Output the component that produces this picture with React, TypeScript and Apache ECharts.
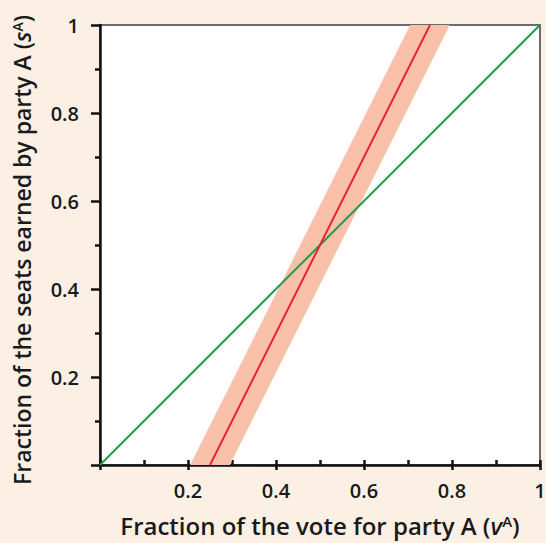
import React, { useEffect, useRef } from "react";
import * as echarts from "echarts";

const xTickValues = [0.2, 0.4, 0.6, 0.8, 1];
const yTickValues = [0.2, 0.4, 0.6, 0.8, 1];
const diagonalLine: [number, number][] = [[0, 0], [1, 1]];
const seatsLine: [number, number][] = [[0.25, 0], [0.75, 1]];
const bandLeft: [number, number][] = [[0.205, 0], [0.705, 1]];
const bandRight: [number, number][] = [[0.295, 0], [0.795, 1]];

const FONT = "Open Sans";
const fmt = (v: number) => (v === 0 ? "" : v === 1 ? "1" : v.toFixed(1));

const makeRich = (size: number) => ({
  a: { fontFamily: FONT, fontSize: size, fontWeight: 600, color: "#1a1a1a" },
  i: { fontFamily: FONT, fontSize: size, fontWeight: 600, fontStyle: "italic", color: "#1a1a1a" },
  sup: { fontFamily: FONT, fontSize: Math.round(size * 0.62), fontWeight: 600, color: "#1a1a1a", verticalAlign: "top", padding: [0, 0, 9, 0] },
});

export default function App() {
  const ref = useRef<HTMLDivElement>(null);
  useEffect(() => {
    if (!ref.current) return;
    const chart = echarts.init(ref.current, null, { renderer: "svg" });
    chart.setOption({
      animation: false,
      backgroundColor: "#fcf0e5",
      grid: {
        left: 100,
        top: 25,
        width: 440,
        height: 440,
        outerBoundsMode: "none",
        containLabel: false,
        show: true,
        backgroundColor: "#ffffff",
        borderColor: "#6b6b6b",
        borderWidth: 2,
      },
      xAxis: [
        {
          type: "value",
          min: 0,
          max: 1,
          interval: 0.2,
          position: "bottom",
          axisLine: { show: true, onZero: false, lineStyle: { color: "#111", width: 2.5 } },
          axisTick: { show: true, inside: false, length: 5, lineStyle: { color: "#111", width: 2.5 } },
          axisLabel: {
            formatter: (v: number) => (xTickValues.includes(Math.round(v * 10) / 10) ? fmt(v) : ""),
            fontFamily: FONT,
            fontSize: 20,
            fontWeight: 600,
            color: "#1a1a1a",
            margin: 15,
          },
          splitLine: { show: false },
          name: "{a|Fraction of the vote for party A (}{i|v}{sup|A}{a|)}",
          nameLocation: "middle",
          nameGap: 48,
          nameTextStyle: { rich: makeRich(24) },
        },
        {
          type: "value",
          min: 0,
          max: 1,
          interval: 0.1,
          position: "bottom",
          axisLine: { show: false },
          axisTick: { show: true, inside: true, length: 5, lineStyle: { color: "#111", width: 2.5 } },
          axisLabel: { show: false },
          splitLine: { show: false },
        },
      ],
      yAxis: {
        type: "value",
        min: 0,
        max: 1,
        interval: 0.2,
        axisLine: { show: true, onZero: false, lineStyle: { color: "#111", width: 2.5 } },
        axisTick: { show: true, inside: false, length: 9, lineStyle: { color: "#111", width: 2.5 } },
        minorTick: { show: true, splitNumber: 2, length: 5, lineStyle: { color: "#111", width: 2.5 } },
        axisLabel: {
          formatter: (v: number) => (yTickValues.includes(Math.round(v * 10) / 10) ? fmt(v) : ""),
          fontFamily: FONT,
          fontSize: 20,
          fontWeight: 600,
          color: "#1a1a1a",
          margin: 21,
        },
        splitLine: { show: false },
        minorSplitLine: { show: false },
        name: "{a|Fraction of the seats earned by party A (}{i|s}{sup|A}{a|)}",
        nameLocation: "middle",
        nameRotate: 90,
        nameGap: 67,
        nameTextStyle: { rich: makeRich(23), padding: [0, 10, 0, 0] },
      },
      series: [
        {
          type: "custom",
          xAxisIndex: 0,
          data: [0],
          renderItem: (params: any, api: any) => {
            const pts = [
              api.coord(bandLeft[0]),
              api.coord(bandLeft[1]),
              api.coord(bandRight[1]),
              api.coord(bandRight[0]),
            ];
            return { type: "polygon", shape: { points: pts }, style: { fill: "#f9c1aa" } };
          },
          z: 1,
        },
        {
          type: "line",
          data: diagonalLine,
          symbol: "none",
          lineStyle: { color: "#1f9e4a", width: 2 },
          z: 2,
        },
        {
          type: "line",
          data: seatsLine,
          symbol: "none",
          lineStyle: { color: "#ee2229", width: 2 },
          z: 3,
        },
      ],
    });
    return () => chart.dispose();
  }, []);
  return (
    <div
      ref={ref}
      style={{ position: "fixed", left: 0, top: 0, width: 546, height: 543 }}
    />
  );
}
